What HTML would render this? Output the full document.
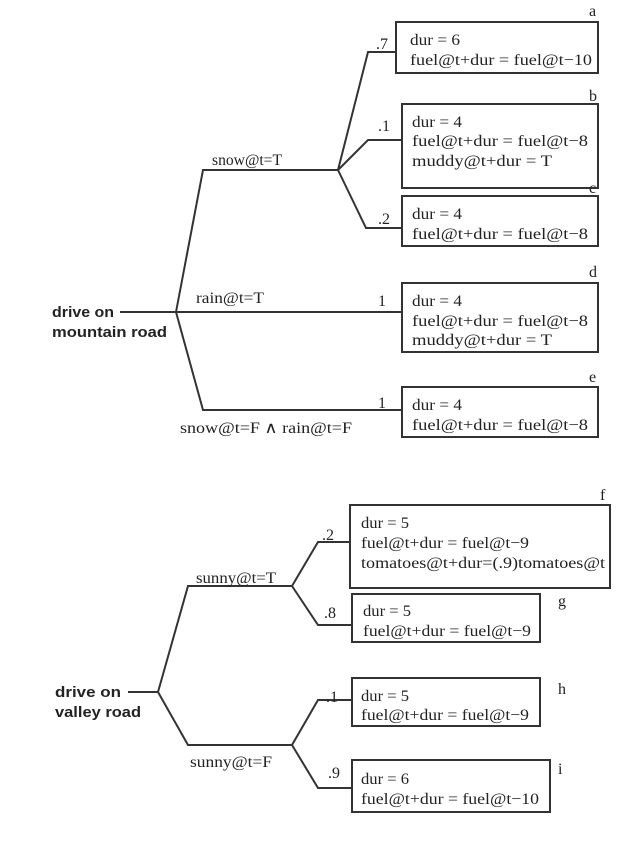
<!DOCTYPE html>
<html><head><meta charset="utf-8"><style>
body{margin:0;background:#fff}
svg text{font-family:"Liberation Serif",serif;font-size:16px;fill:#222}
.b{font-family:"Liberation Sans",sans-serif;font-weight:bold;font-size:14.5px}
</style></head><body>
<svg width="640" height="841" xmlns="http://www.w3.org/2000/svg">
<g fill="none" stroke="#333" stroke-width="2">
<path d="M120 312H176M176 312L203 170H338M176 312L203 410H402M176 312H402"/>
<path d="M338 170L368 52H396M338 170L368 140H402M338 170L366 228H402"/>
<rect x="396" y="22" width="202" height="51"/>
<rect x="402" y="104" width="196" height="84"/>
<rect x="402" y="196" width="196" height="50"/>
<rect x="402" y="283" width="196" height="69"/>
<rect x="402" y="387" width="196" height="50"/>
<path d="M128 692H158M158 692L188 586H292M158 692L188 745H292"/>
<path d="M292 586L318 542H350M292 586L318 625H352M292 745L318 700H352M292 745L318 788H352"/>
<rect x="350" y="505" width="260" height="83"/>
<rect x="352" y="594" width="188" height="48"/>
<rect x="352" y="678" width="188" height="48"/>
<rect x="352" y="760" width="198" height="52"/>
</g>
<text class="b" x="52" y="317" textLength="62" lengthAdjust="spacingAndGlyphs">drive on</text>
<text class="b" x="52" y="337" textLength="115" lengthAdjust="spacingAndGlyphs">mountain road</text>
<text x="212" y="165" textLength="70" lengthAdjust="spacingAndGlyphs">snow@t=T</text>
<text x="196" y="303" textLength="68" lengthAdjust="spacingAndGlyphs">rain@t=T</text>
<text x="180" y="433" textLength="172" lengthAdjust="spacingAndGlyphs">snow@t=F ∧ rain@t=F</text>
<text x="376" y="49">.7</text><text x="378" y="131">.1</text><text x="378" y="224">.2</text>
<text x="378" y="306">1</text><text x="378" y="408">1</text>
<text x="589" y="16">a</text><text x="589" y="101">b</text><text x="589" y="193">c</text><text x="589" y="277">d</text><text x="589" y="382">e</text>
<text x="410" y="45" textLength="50" lengthAdjust="spacingAndGlyphs">dur = 6</text><text x="410" y="65" textLength="182" lengthAdjust="spacingAndGlyphs">fuel@t+dur = fuel@t−10</text>
<text x="412" y="127" textLength="50" lengthAdjust="spacingAndGlyphs">dur = 4</text><text x="412" y="146" textLength="176" lengthAdjust="spacingAndGlyphs">fuel@t+dur = fuel@t−8</text><text x="412" y="166" textLength="140" lengthAdjust="spacingAndGlyphs">muddy@t+dur = T</text>
<text x="412" y="219" textLength="50" lengthAdjust="spacingAndGlyphs">dur = 4</text><text x="412" y="239" textLength="176" lengthAdjust="spacingAndGlyphs">fuel@t+dur = fuel@t−8</text>
<text x="412" y="306" textLength="50" lengthAdjust="spacingAndGlyphs">dur = 4</text><text x="412" y="326" textLength="176" lengthAdjust="spacingAndGlyphs">fuel@t+dur = fuel@t−8</text><text x="412" y="345" textLength="140" lengthAdjust="spacingAndGlyphs">muddy@t+dur = T</text>
<text x="412" y="410" textLength="50" lengthAdjust="spacingAndGlyphs">dur = 4</text><text x="412" y="430" textLength="176" lengthAdjust="spacingAndGlyphs">fuel@t+dur = fuel@t−8</text>
<text class="b" x="55" y="697" textLength="66" lengthAdjust="spacingAndGlyphs">drive on</text>
<text class="b" x="55" y="717" textLength="86" lengthAdjust="spacingAndGlyphs">valley road</text>
<text x="196" y="583" textLength="80" lengthAdjust="spacingAndGlyphs">sunny@t=T</text>
<text x="190" y="767" textLength="82" lengthAdjust="spacingAndGlyphs">sunny@t=F</text>
<text x="322" y="540">.2</text><text x="324" y="618">.8</text><text x="326" y="702">.1</text><text x="328" y="778">.9</text>
<text x="600" y="500">f</text><text x="558" y="606">g</text><text x="558" y="694">h</text><text x="558" y="774">i</text>
<text x="361" y="528" textLength="48" lengthAdjust="spacingAndGlyphs">dur = 5</text><text x="361" y="548" textLength="168" lengthAdjust="spacingAndGlyphs">fuel@t+dur = fuel@t−9</text><text x="361" y="568" textLength="244" lengthAdjust="spacingAndGlyphs">tomatoes@t+dur=(.9)tomatoes@t</text>
<text x="363" y="616" textLength="48" lengthAdjust="spacingAndGlyphs">dur = 5</text><text x="363" y="636" textLength="168" lengthAdjust="spacingAndGlyphs">fuel@t+dur = fuel@t−9</text>
<text x="361" y="701" textLength="48" lengthAdjust="spacingAndGlyphs">dur = 5</text><text x="361" y="720" textLength="168" lengthAdjust="spacingAndGlyphs">fuel@t+dur = fuel@t−9</text>
<text x="361" y="784" textLength="48" lengthAdjust="spacingAndGlyphs">dur = 6</text><text x="361" y="804" textLength="178" lengthAdjust="spacingAndGlyphs">fuel@t+dur = fuel@t−10</text>
</svg>
</body></html>
